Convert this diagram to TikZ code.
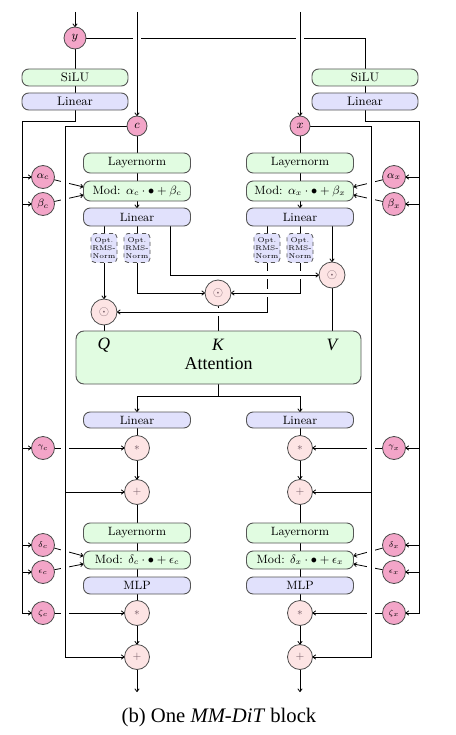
\documentclass[tikz,border=0pt]{standalone}
\usepackage{fontspec}
\newfontfamily\timesf{Liberation Serif}
\usetikzlibrary{arrows.meta,backgrounds}
\definecolor{lgreen}{RGB}{225,252,225}
\definecolor{lblue}{RGB}{225,225,252}
\definecolor{pinkf}{RGB}{243,165,200}
\definecolor{opink}{RGB}{253,228,228}
\definecolor{bgray}{RGB}{85,85,85}
\definecolor{cgray}{RGB}{75,75,75}
\definecolor{symc}{RGB}{120,95,105}
\newdimen\PXu \PXu=0.75pt
\begin{document}
\begin{tikzpicture}[x=0.75pt,y=-0.75pt,
  every node/.style={inner sep=0pt,outer sep=0pt},
  box/.style={draw=bgray,line width=0.7pt,rounded corners=5pt,minimum width=107\PXu,font=\fontsize{9}{10}\selectfont},
  gbox/.style={box,fill=lgreen},
  bbox/.style={box,fill=lblue},
  topbox/.style={minimum width=106\PXu,minimum height=17\PXu,font=\fontsize{9.3}{10}\selectfont},
  rms/.style={draw=bgray,dashed,line width=0.6pt,rounded corners=3pt,fill=lblue,minimum width=26\PXu,minimum height=29\PXu,align=center,font=\fontsize{5.2}{5.7}\selectfont},
  pinkc/.style={circle,draw=cgray,fill=pinkf,line width=0.6pt,minimum size=23\PXu},
  opc/.style={circle,draw=cgray,fill=opink,line width=0.6pt,minimum size=25\PXu,text=symc,font=\fontsize{8}{9}\selectfont},
  ln/.style={line width=0.6pt,black},
  arr/.style={ln,-{To[length=2.6pt,width=3.6pt]}},
  gap/.style={draw=white,line width=6pt},
  gk/.style={font=\fontsize{8}{9}\selectfont},
  gs/.style={font=\fontsize{6.5}{7}\selectfont}
]
\useasboundingbox (0,0) rectangle (456,735);

% top inputs
\coordinate (yin) at (75,12);
\coordinate (cin) at (137,12);
\coordinate (xin) at (300,12);
\node[pinkc,minimum size=22\PXu,font=\fontsize{9.5}{10}\selectfont] (y) at (75,38) {$y$};
\node[pinkc,minimum size=20\PXu,font=\fontsize{9.5}{10}\selectfont] (c) at (137,126) {$c$};
\node[pinkc,minimum size=20\PXu,font=\fontsize{9.5}{10}\selectfont] (x) at (300,126) {$x$};

\node[gbox,topbox] (silL) at (75,77.5) {SiLU};
\node[bbox,topbox] (linL) at (75,101.5) {Linear};
\node[gbox,topbox] (silR) at (365,77.5) {SiLU};
\node[bbox,topbox] (linR) at (365,101.5) {Linear};

% c branch
\node[gbox,minimum height=20\PXu] (lnC) at (137,163) {Layernorm};
\node[gbox,minimum height=20\PXu] (modC) at (137,191) {Mod: $\alpha_c\cdot\bullet+\beta_c$};
\node[bbox,minimum height=18\PXu] (linC) at (137,217) {Linear};
\node[rms] (rc1) at (104,248) {Opt.\\RMS-\\Norm};
\node[rms] (rc2) at (137,248) {Opt.\\RMS-\\Norm};
% x branch
\node[gbox,minimum height=20\PXu] (lnX) at (300,163) {Layernorm};
\node[gbox,minimum height=20\PXu] (modX) at (300,191) {Mod: $\alpha_x\cdot\bullet+\beta_x$};
\node[bbox,minimum height=18\PXu] (linX) at (300,217) {Linear};
\node[rms] (rx1) at (267,248) {Opt.\\RMS-\\Norm};
\node[rms] (rx2) at (300,248) {Opt.\\RMS-\\Norm};

% concat nodes
\node[opc,minimum size=26\PXu,font=\fontsize{10}{10}\selectfont] (oQ) at (104,312) {$\odot$};
\node[opc,minimum size=26\PXu,font=\fontsize{10}{10}\selectfont] (oK) at (218,293) {$\odot$};
\node[opc,minimum size=26\PXu,font=\fontsize{10}{10}\selectfont] (oV) at (332,275) {$\odot$};

% attention
\node[draw=bgray,line width=0.7pt,rounded corners=6pt,fill=lgreen,minimum width=285\PXu,minimum height=53\PXu] (att) at (218.5,357.5) {};
\node[font=\timesf\itshape\fontsize{13}{15}\selectfont] (lQ) at (104,345) {Q};
\node[font=\timesf\itshape\fontsize{13}{15}\selectfont] (lK) at (218,345) {K};
\node[font=\timesf\itshape\fontsize{13}{15}\selectfont] (lV) at (332,345) {V};
\node[font=\timesf\fontsize{13.5}{15}\selectfont] (lA) at (218.5,364) {Attention};

% lower c
\node[bbox,minimum height=16\PXu] (lac) at (137,420) {Linear};
\node[opc] (sc1) at (137,448) {$*$};
\node[opc] (pc1) at (137,492) {$+$};
\node[gbox,minimum height=20\PXu] (ln2c) at (137,533) {Layernorm};
\node[gbox,minimum height=18\PXu] (mod2c) at (137,560) {Mod: $\delta_c\cdot\bullet+\epsilon_c$};
\node[bbox,minimum height=17\PXu] (mlpc) at (137,585.5) {MLP};
\node[opc] (sc2) at (137,613) {$*$};
\node[opc] (pc2) at (137,657) {$+$};
\coordinate (outc) at (137,692);
% lower x
\node[bbox,minimum height=16\PXu] (lax) at (300,420) {Linear};
\node[opc] (sx1) at (300,448) {$*$};
\node[opc] (px1) at (300,492) {$+$};
\node[gbox,minimum height=20\PXu] (ln2x) at (300,533) {Layernorm};
\node[gbox,minimum height=18\PXu] (mod2x) at (300,560) {Mod: $\delta_x\cdot\bullet+\epsilon_x$};
\node[bbox,minimum height=17\PXu] (mlpx) at (300,585.5) {MLP};
\node[opc] (sx2) at (300,613) {$*$};
\node[opc] (px2) at (300,657) {$+$};
\coordinate (outx) at (300,692);

% greek modulation circles
\node[pinkc,gk] (ac) at (43,177) {$\alpha_c$};
\node[pinkc,gk] (bc) at (43,204) {$\beta_c$};
\node[pinkc,gs] (gc) at (43,448) {$\gamma_c$};
\node[pinkc,gs] (dc) at (43,545) {$\delta_c$};
\node[pinkc,gs] (ec) at (43,572) {$\epsilon_c$};
\node[pinkc,gs] (zc) at (43,613) {$\zeta_c$};
\node[pinkc,gk] (ax) at (394,177) {$\alpha_x$};
\node[pinkc,gk] (bx) at (394,204) {$\beta_x$};
\node[pinkc,gs] (gx) at (394,448) {$\gamma_x$};
\node[pinkc,gs] (dx) at (394,545) {$\delta_x$};
\node[pinkc,gs] (ex) at (394,572) {$\epsilon_x$};
\node[pinkc,gs] (zx) at (394,613) {$\zeta_x$};

\coordinate (lcorner) at (22,121);
\coordinate (rcorner) at (419,121);
\coordinate (rcL) at (65,126);
\coordinate (rcR) at (371,126);
\coordinate (asplit) at (218.5,396);

\node[font=\timesf\fontsize{15.5}{18}\selectfont] (cap) at (219,718) {(b) One \textit{MM-DiT} block};

\begin{pgfonlayer}{background}
% conditioning y
\draw[arr] (yin) -- (y);
\draw[ln] (y) -- (silL);
\draw[ln] (silL) -- (linL);
\draw[ln] (y) -- (y -| silR) -- (silR);
\draw[ln] (silR) -- (linR);
\draw[gap] (137,30) -- (137,46);
\draw[gap] (300,30) -- (300,46);
\draw[arr] (cin) -- (c);
\draw[arr] (xin) -- (x);
% adaLN distribution lines
\draw[arr] (linL.south) |- (lcorner) |- (zc);
\foreach \n in {ac,bc,gc,dc,ec} \draw[arr] (\n -| lcorner) -- (\n);
\draw[arr] (linR.south) |- (rcorner) |- (zx);
\foreach \n in {ax,bx,gx,dx,ex} \draw[arr] (\n -| rcorner) -- (\n);
% modulation inputs
\draw[arr] (ac) -- ([yshift=3pt]modC.west);
\draw[arr] (bc) -- ([yshift=-3pt]modC.west);
\draw[arr] (dc) -- ([yshift=3pt]mod2c.west);
\draw[arr] (ec) -- ([yshift=-3pt]mod2c.west);
\draw[arr] (gc) -- (sc1);
\draw[arr] (zc) -- (sc2);
\draw[arr] (ax) -- ([yshift=3pt]modX.east);
\draw[arr] (bx) -- ([yshift=-3pt]modX.east);
\draw[arr] (dx) -- ([yshift=3pt]mod2x.east);
\draw[arr] (ex) -- ([yshift=-3pt]mod2x.east);
\draw[arr] (gx) -- (sx1);
\draw[arr] (zx) -- (sx2);
% residual streams
\draw[gap] (65,135) -- (65,645);
\draw[gap] (371,135) -- (371,645);
\draw[arr] (c) -- (rcL) |- (pc2);
\draw[arr] (rcL |- pc1) -- (pc1);
\draw[arr] (x) -- (rcR) |- (px2);
\draw[arr] (rcR |- px1) -- (px1);
% main c path
\draw[ln] (c) -- (lnC);
\draw[ln] (lnC) -- (modC);
\draw[arr] (modC) -- (linC);
\draw[ln] (rc1 |- linC.south) -- (rc1);
\draw[ln] (rc2 |- linC.south) -- (rc2);
\draw[arr] (rc1) -- (oQ);
\draw[arr] (rc2) |- (oK);
% main x path
\draw[ln] (x) -- (lnX);
\draw[ln] (lnX) -- (modX);
\draw[arr] (modX) -- (linX);
\draw[ln] (rx1 |- linX.south) -- (rx1);
\draw[ln] (rx2 |- linX.south) -- (rx2);
\draw[arr] (oV |- linX.south) -- (oV);
% into attention
\draw[ln] (oQ) -- (oQ |- att.north);
\draw[ln] (oK) -- (oK |- att.north);
\draw[ln] (oV) -- (oV |- att.north);
\draw[gap] (125,312) -- (255,312);
\draw[arr] (rx1) |- (oQ);
\draw[gap] (234,293) -- (292,293);
\draw[arr] (rx2) |- (oK);
\draw[gap] (178,275) -- (316,275);
\draw[arr] ([xshift=24.75pt]linC.south) |- (oV);
% after attention
\draw[ln] (att.south) -- (asplit);
\draw[arr] (asplit) -| (lac);
\draw[arr] (asplit) -| (lax);
\draw[ln] (lac) -- (sc1);
\draw[arr] (sc1) -- (pc1);
\draw[ln] (pc1) -- (ln2c);
\draw[ln] (ln2c) -- (mod2c);
\draw[ln] (mod2c) -- (mlpc);
\draw[ln] (mlpc) -- (sc2);
\draw[arr] (sc2) -- (pc2);
\draw[arr] (pc2) -- (outc);
\draw[ln] (lax) -- (sx1);
\draw[arr] (sx1) -- (px1);
\draw[ln] (px1) -- (ln2x);
\draw[ln] (ln2x) -- (mod2x);
\draw[ln] (mod2x) -- (mlpx);
\draw[ln] (mlpx) -- (sx2);
\draw[arr] (sx2) -- (px2);
\draw[arr] (px2) -- (outx);
\end{pgfonlayer}
\end{tikzpicture}
\end{document}
